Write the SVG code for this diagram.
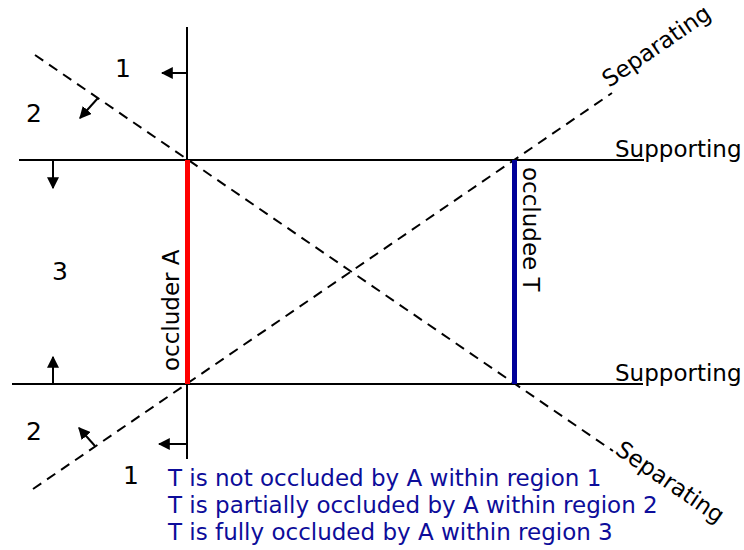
<svg xmlns="http://www.w3.org/2000/svg" width="744" height="550" viewBox="0 0 744 550">
<style>
.txt{font-family:"DejaVu Sans","Liberation Sans",sans-serif;font-size:23px;fill:#000}
.num{font-family:"DejaVu Sans","Liberation Sans",sans-serif;font-size:25px;fill:#000}
.blue{font-family:"DejaVu Sans","Liberation Sans",sans-serif;font-size:23px;fill:#0d0d9a}
.solid{stroke:#000;stroke-width:2;fill:none}
.dash{stroke:#000;stroke-width:2;fill:none;stroke-dasharray:10 7}
.arr{stroke:#000;stroke-width:2;fill:none;marker-end:url(#ah)}
</style>
<defs>
<marker id="ah" viewBox="0 0 10 10" refX="9" refY="5" markerWidth="6" markerHeight="6" markerUnits="strokeWidth" orient="auto">
<path d="M0,0 L10,5 L0,10 z" fill="#000"/>
</marker>
</defs>
<g id="connectors">
<line class="solid" x1="19" y1="160" x2="644" y2="160"/>
<line class="solid" x1="12" y1="384" x2="643" y2="384"/>
<line class="solid" x1="187" y1="27" x2="187" y2="160"/>
<line class="solid" x1="187" y1="384" x2="187" y2="459"/>
<line class="dash" x1="35" y1="55" x2="613" y2="451"/>
<line class="dash" x1="33" y1="489" x2="612" y2="93"/>
<line class="arr" x1="187" y1="73" x2="162" y2="73"/>
<line class="arr" x1="98" y1="98" x2="80" y2="118"/>
<line class="arr" x1="53" y1="160" x2="53" y2="188"/>
<line class="arr" x1="53" y1="384" x2="53" y2="357"/>
<line class="arr" x1="95" y1="446" x2="79" y2="428"/>
<line class="arr" x1="187" y1="444" x2="159" y2="444"/>
</g>
<g id="occluderA">
<line x1="187.5" y1="160" x2="187.5" y2="384" stroke="#ff0000" stroke-width="5"/>
<text class="txt" transform="translate(179,371) rotate(-90)">occluder A</text>
</g>
<g id="occludeeT">
<line x1="514.5" y1="160" x2="514.5" y2="384" stroke="#000099" stroke-width="5"/>
<text class="txt" transform="translate(523,167) rotate(90)">occludee T</text>
</g>
<g id="labels">
<text class="txt" x="615" y="157">Supporting</text>
<text class="txt" x="615" y="381">Supporting</text>
<text class="txt" transform="translate(609,88) rotate(-34.4)">Separating</text>
<text class="txt" transform="translate(614,453) rotate(34.4)">Separating</text>
<text class="num" x="115" y="77">1</text>
<text class="num" x="26" y="122">2</text>
<text class="num" x="52" y="280">3</text>
<text class="num" x="26" y="440">2</text>
<text class="num" x="123" y="484">1</text>
</g>
<g id="legend">
<text class="blue" x="168" y="486">T is not occluded by A within region 1</text>
<text class="blue" x="168" y="513">T is partially occluded by A within region 2</text>
<text class="blue" x="168" y="540">T is fully occluded by A within region 3</text>
</g>
</svg>
